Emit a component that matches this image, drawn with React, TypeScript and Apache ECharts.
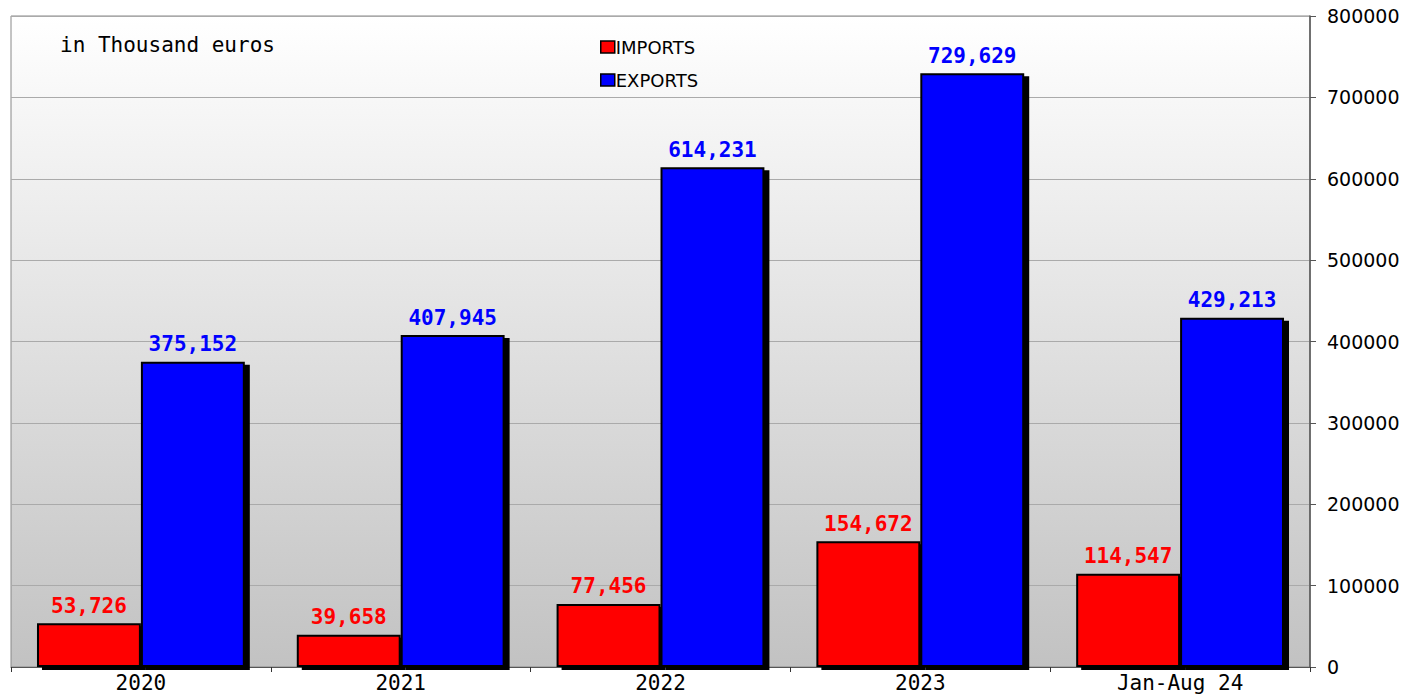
import React, { useEffect, useRef } from "react";
import * as echarts from "echarts";

const categories = ["2020", "2021", "2022", "2023", "Jan-Aug 24"];
const imports = [53726, 39658, 77456, 154672, 114547];
const exportsData = [375152, 407945, 614231, 729629, 429213];
const yTicks = { min: 0, max: 800000, interval: 100000 };

const mono = "DejaVu Sans Mono";
const fmt = (v: number) => v.toLocaleString("en-US");

export default function App() {
  const ref = useRef<HTMLDivElement>(null);
  useEffect(() => {
    document.body.style.margin = "0";
    const chart = echarts.init(ref.current!, undefined, { renderer: "svg" });
    const barSeries = (name: string, data: number[], color: string) => ({
      name,
      type: "bar",
      data,
      barGap: "0%",
      barCategoryGap: "20%",
      itemStyle: {
        color,
        borderColor: "#000",
        borderWidth: 2,
        shadowColor: "#000",
        shadowOffsetX: 5,
        shadowOffsetY: 3,
        shadowBlur: 0,
      },
      label: {
        show: true,
        position: "top",
        distance: 7,
        color,
        fontFamily: mono,
        fontWeight: "bold",
        fontSize: 21,
        formatter: (p: any) => fmt(p.value),
      },
    });
    chart.setOption({
      animation: false,
      backgroundColor: "#fff",
      grid: {
        left: 11,
        right: 104,
        top: 16,
        bottom: 29,
        show: true,
        borderColor: "#888",
        borderWidth: 1,
        backgroundColor: new echarts.graphic.LinearGradient(0, 0, 0, 1, [
          { offset: 0, color: "#ffffff" },
          { offset: 1, color: "#c2c2c2" },
        ]),
      },
      graphic: [
        {
          type: "text",
          left: 60,
          top: 34,
          style: { text: "in Thousand euros", fontFamily: mono, fontSize: 21, fill: "#000" },
        },
      ],
      legend: {
        orient: "vertical",
        left: 595,
        top: 33,
        icon: "rect",
        itemWidth: 14,
        itemHeight: 12,
        itemGap: 15,
        itemStyle: { borderColor: "#000", borderWidth: 1.5 },
        textStyle: { fontFamily: "DejaVu Sans", fontSize: 18, color: "#000", padding: [0, 0, 0, -4] },
        data: ["IMPORTS", "EXPORTS"],
      },
      xAxis: {
        type: "category",
        data: categories,
        axisLine: { show: true, lineStyle: { color: "#555", width: 1 } },
        axisTick: { show: true, length: 5, lineStyle: { color: "#333" } },
        axisLabel: { color: "#000", fontFamily: mono, fontSize: 21, margin: 5 },
      },
      yAxis: {
        type: "value",
        position: "right",
        min: yTicks.min,
        max: yTicks.max,
        interval: yTicks.interval,
        axisLine: { show: true, lineStyle: { color: "#555", width: 1.5 } },
        axisTick: { show: true, inside: false, length: 6, lineStyle: { color: "#555" } },
        axisLabel: {
          color: "#000",
          fontFamily: "DejaVu Sans",
          fontSize: 19,
          margin: 17,
          formatter: (v: number) => String(v),
        },
        splitLine: { show: true, lineStyle: { color: "#aaa", width: 1 } },
      },
      series: [barSeries("IMPORTS", imports, "#ff0000"), barSeries("EXPORTS", exportsData, "#0000ff")],
    });
    return () => chart.dispose();
  }, []);
  return <div ref={ref} style={{ width: 1414, height: 696 }} />;
}
